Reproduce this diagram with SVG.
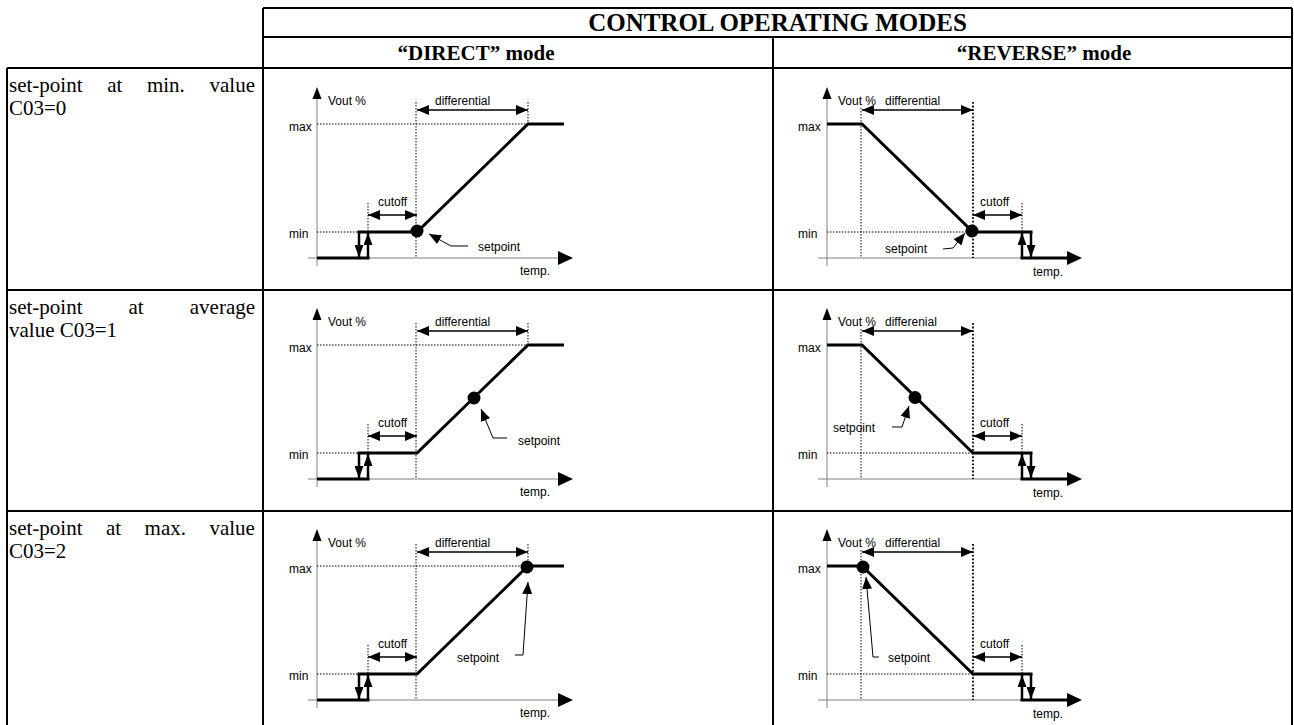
<svg xmlns="http://www.w3.org/2000/svg" xmlns:xlink="http://www.w3.org/1999/xlink" width="1294" height="725" viewBox="0 0 1294 725">
<style>
.grid{stroke:#000;stroke-width:2;fill:none}
.hdr{font-family:"Liberation Serif","Times New Roman",serif;font-weight:bold;font-size:21px;text-anchor:middle;fill:#000}
.ttl{font-size:25px}
.rowt{font-family:"Liberation Serif","Times New Roman",serif;font-size:21px;fill:#000}
.ax{stroke:#808080;stroke-width:1;fill:none}
.thick{stroke:#000;stroke-width:3;fill:none}
.dt{stroke:#000;stroke-width:1;stroke-dasharray:1.5 1.5;fill:none}
.dtb{stroke:#000;stroke-width:1.8;stroke-dasharray:1.8 1.8;fill:none}
.step{stroke:#000;stroke-width:2.5;fill:none;marker-end:url(#ahs)}
.dim{stroke:#000;stroke-width:1.6;fill:none;marker-start:url(#ah);marker-end:url(#ah)}
.ptr{stroke:#000;stroke-width:1;fill:none;marker-end:url(#ah)}
.lbl{font-family:"Liberation Sans",Arial,sans-serif;font-size:12px;fill:#000}
</style>
<defs>
<marker id="ah" viewBox="0 0 12 10" refX="12" refY="5" markerWidth="12" markerHeight="10" markerUnits="userSpaceOnUse" orient="auto-start-reverse"><path d="M0,0L12,5L0,10z" fill="#000"/></marker>
<marker id="ahs" viewBox="0 0 12 9" refX="12" refY="4.5" markerWidth="12" markerHeight="9" markerUnits="userSpaceOnUse" orient="auto"><path d="M0,0L12,4.5L0,9z" fill="#000"/></marker>
<g id="dirBase">
<line class="ax" x1="317" y1="96" x2="317" y2="266"/>
<polygon points="317,87 312.5,99 321.5,99" fill="#000"/>
<line class="ax" x1="308" y1="258" x2="560" y2="258"/>
<polygon points="573,258 558,251 558,265" fill="#000"/>
<path class="dt" d="M317,124H528 M317,232H360 M416,102V258 M528,102V124 M368,203V232"/>
<path class="thick" d="M317,258H369.5 M357.5,232H417L528,124H564"/>
<path class="step" d="M359,232V257"/>
<path class="step" d="M368,258V233"/>
<path class="dim" d="M417,110H528"/>
<path class="dim" d="M368,215H417"/>
<text class="lbl" x="328" y="105">Vout %</text>
<text class="lbl" x="289" y="131">max</text>
<text class="lbl" x="289" y="238">min</text>
<text class="lbl" x="378" y="206">cutoff</text>
<text class="lbl" x="520" y="275">temp.</text>
</g>
<g id="revBase">
<line class="ax" x1="827" y1="96" x2="827" y2="266"/>
<polygon points="827,87 822.5,99 831.5,99" fill="#000"/>
<line class="ax" x1="818" y1="258" x2="1068" y2="258"/>
<polygon points="1082,258 1067,251 1067,265" fill="#000"/>
<path class="dt" d="M827,232H973 M861,108V258 M1022,203V232"/>
<path class="dtb" d="M973,102V258"/>
<path class="thick" d="M827,124H862L973,232H1032.5 M1020.5,258H1068"/>
<path class="step" d="M1031,232V257"/>
<path class="step" d="M1022,258V233"/>
<path class="dim" d="M862,110H973"/>
<path class="dim" d="M973,215H1022"/>
<text class="lbl" x="838" y="105">Vout %</text>
<text class="lbl" x="798" y="131">max</text>
<text class="lbl" x="798" y="238">min</text>
<text class="lbl" x="980" y="206">cutoff</text>
<text class="lbl" x="1033" y="276">temp.</text>
</g>
</defs>
<rect width="1294" height="725" fill="#fff"/>
<g id="table">
<path class="grid" d="M263,8H1292 M263,37H1292 M7,68H1292 M7,290H1292 M7,511H1292 M263,8V725 M1292,8V725 M773,37V725 M7,68V725"/>
</g>
<g id="header">
<text class="hdr ttl" x="777.5" y="31">CONTROL OPERATING MODES</text>
<text class="hdr" x="476" y="60">“DIRECT” mode</text>
<text class="hdr" x="1044" y="60">“REVERSE” mode</text>
</g>
<g id="row1-label">
<text class="rowt" x="9" y="92" word-spacing="19.4">set-point at min. value</text>
<text class="rowt" x="9" y="115">C03=0</text>
</g>
<g id="row2-label">
<text class="rowt" x="9" y="314" word-spacing="40.8">set-point at average</text>
<text class="rowt" x="9" y="337">value C03=1</text>
</g>
<g id="row3-label">
<text class="rowt" x="9" y="535" word-spacing="18.2">set-point at max. value</text>
<text class="rowt" x="9" y="558">C03=2</text>
</g>
<g id="row1-direct">
<use xlink:href="#dirBase"/>
<text class="lbl" x="435" y="105">differential</text>
<circle cx="417" cy="231" r="6.5" fill="#000"/>
<path class="ptr" d="M468,246H451L429,234"/>
<text class="lbl" x="478" y="251">setpoint</text>
</g>
<g id="row1-reverse">
<use xlink:href="#revBase"/>
<text class="lbl" x="885" y="105">differential</text>
<circle cx="972" cy="231" r="6.5" fill="#000"/>
<path class="ptr" d="M943,249L953,248L965,233"/>
<text class="lbl" x="885" y="253">setpoint</text>
</g>
<g id="row2-direct" transform="translate(0,221)">
<use xlink:href="#dirBase"/>
<text class="lbl" x="435" y="105">differential</text>
<circle cx="474" cy="177" r="6.5" fill="#000"/>
<path class="ptr" d="M507,217H493L481,188"/>
<text class="lbl" x="518" y="224">setpoint</text>
</g>
<g id="row2-reverse" transform="translate(0,221)">
<use xlink:href="#revBase"/>
<text class="lbl" x="885" y="105">differenial</text>
<circle cx="915" cy="176.5" r="6.5" fill="#000"/>
<path class="ptr" d="M892,206H902L909,185"/>
<text class="lbl" x="833" y="211">setpoint</text>
</g>
<g id="row3-direct" transform="translate(0,442)">
<use xlink:href="#dirBase"/>
<text class="lbl" x="435" y="105">differential</text>
<circle cx="527" cy="125" r="6.5" fill="#000"/>
<path class="ptr" d="M515,213H523L528,140"/>
<text class="lbl" x="457" y="220">setpoint</text>
</g>
<g id="row3-reverse" transform="translate(0,442)">
<use xlink:href="#revBase"/>
<text class="lbl" x="885" y="105">differential</text>
<circle cx="863" cy="125" r="6.5" fill="#000"/>
<path class="ptr" d="M879,215H873L866,135"/>
<text class="lbl" x="888" y="220">setpoint</text>
</g>
</svg>
